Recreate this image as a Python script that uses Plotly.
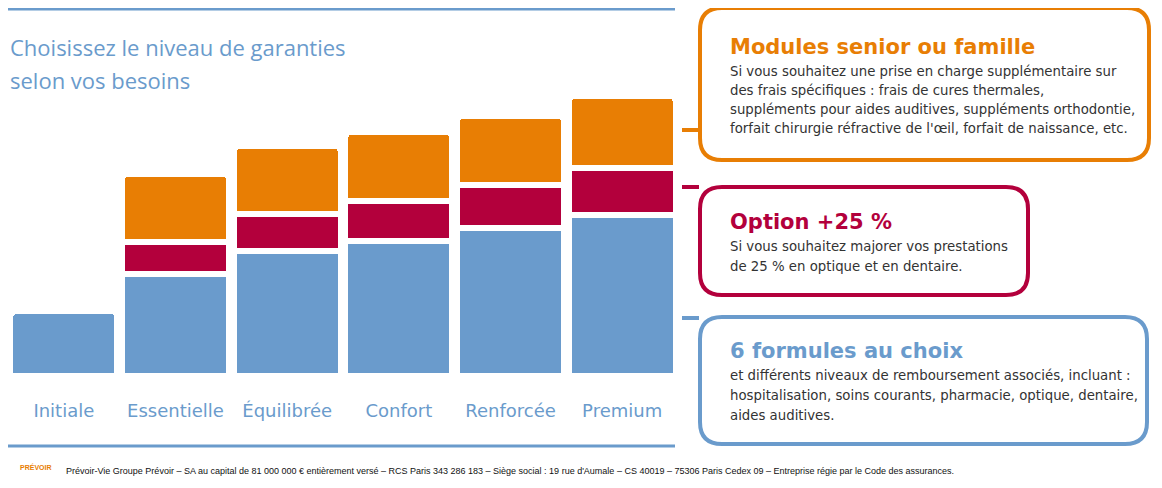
import plotly.graph_objects as go

categories = ["Initiale", "Essentielle", "Équilibrée", "Confort", "Renforcée", "Premium"]
base = [65, 102, 125, 135, 148, 161]
option25 = [0, 32, 37, 40, 43, 47]
modules = [0, 68, 68, 69, 69, 72]

BLUE = "#6a9bcc"; RED = "#b3003c"; ORANGE = "#e87e04"; GREY = "#333333"
W, H = 1162, 488
OFF = 8                       # page body margin
L, R, T, B = 0, 670, 0, 370   # plot area in figure pixels

px = lambda x: (x - OFF - L) / (R - L)
py = lambda y: (B - (y - OFF)) / (B - T)

fig = go.Figure()
for vals, col in [(base, BLUE), (option25, RED), (modules, ORANGE)]:
    fig.add_trace(go.Bar(x=categories, y=vals, marker=dict(color=col, line=dict(color="white", width=6)),
                         hoverinfo="skip", showlegend=False))

def rr(x0, y0, x1, y1, r):
    return (f"M {px(x0+r)},{py(y0)} L {px(x1-r)},{py(y0)} Q {px(x1)},{py(y0)} {px(x1)},{py(y0+r)} "
            f"L {px(x1)},{py(y1-r)} Q {px(x1)},{py(y1)} {px(x1-r)},{py(y1)} L {px(x0+r)},{py(y1)} "
            f"Q {px(x0)},{py(y1)} {px(x0)},{py(y1-r)} L {px(x0)},{py(y0+r)} Q {px(x0)},{py(y0)} {px(x0+r)},{py(y0)} Z")

def line(x0, y0, x1, y1, col, w):
    fig.add_shape(type="line", xref="paper", yref="paper", x0=px(x0), x1=px(x1), y0=py(y0), y1=py(y1),
                  line=dict(color=col, width=w))

line(8, 9, 675, 9, BLUE, 3)
line(8, 446, 675, 446, BLUE, 3)
for (x0, y0, x1, y1, col, cy) in [(700, 8, 1149, 160, ORANGE, 130), (700, 187, 1028, 295, RED, 187),
                                  (700, 317, 1147, 444, BLUE, 318)]:
    fig.add_shape(type="path", xref="paper", yref="paper", path=rr(x0, y0, x1, y1, 22),
                  line=dict(color=col, width=4), fillcolor="white")
    line(682, cy, 699, cy, col, 4)

def ann(x, y, text, size, color, bold=False, family="Lato"):
    fig.add_annotation(x=px(x), y=py(y), xref="paper", yref="paper", text=f"<b>{text}</b>" if bold else text,
                       showarrow=False, xanchor="left", yanchor="middle", align="left",
                       font=dict(size=size, color=color, family=family))

ann(8, 47, "Choisissez le niveau de garanties", 22, BLUE, family="Open Sans")
ann(8, 80, "selon vos besoins", 22, BLUE, family="Open Sans")

ann(728, 47, "Modules senior ou famille", 21, ORANGE, True, "DejaVu Sans")
for i, t in enumerate(["Si vous souhaitez une prise en charge supplémentaire sur",
                       "des frais spécifiques : frais de cures thermales,",
                       "suppléments pour aides auditives, suppléments orthodontie,",
                       "forfait chirurgie réfractive de l'œil, forfait de naissance, etc."]):
    ann(728, 71 + i*19.3, t, 13.3, GREY, family="DejaVu Sans")
ann(728, 222, "Option +25 %", 21, RED, True, "DejaVu Sans")
for i, t in enumerate(["Si vous souhaitez majorer vos prestations", "de 25 % en optique et en dentaire."]):
    ann(728, 246 + i*20, t, 13.3, GREY, family="DejaVu Sans")
ann(728, 351, "6 formules au choix", 21, BLUE, True, "DejaVu Sans")
for i, t in enumerate(["et différents niveaux de remboursement associés, incluant :",
                       "hospitalisation, soins courants, pharmacie, optique, dentaire,",
                       "aides auditives."]):
    ann(728, 375 + i*20, t, 13.3, GREY, family="DejaVu Sans")

ann(18, 467, "PRÉVOIR", 7, ORANGE, True, "Liberation Sans")
ann(64, 471, "Prévoir-Vie Groupe Prévoir – SA au capital de 81 000 000 € entièrement versé – RCS Paris 343 286 183 – Siège social : 19 rue d'Aumale – CS 40019 – 75306 Paris Cedex 09 – Entreprise régie par le Code des assurances.",
    9.0, "#111111", family="Liberation Sans")

fig.update_layout(width=W, height=H, margin=dict(l=L, r=W-R, t=T, b=H-B),
                  barmode="stack", bargap=0.04, barcornerradius=6,
                  plot_bgcolor="white", paper_bgcolor="white",
                  xaxis=dict(showgrid=False, zeroline=False, showline=False, ticks="", ticklabelstandoff=20,
                             tickfont=dict(size=18, color=BLUE, family="DejaVu Sans")),
                  yaxis=dict(range=[-2, 368], visible=False))
fig.write_html("out.html")
